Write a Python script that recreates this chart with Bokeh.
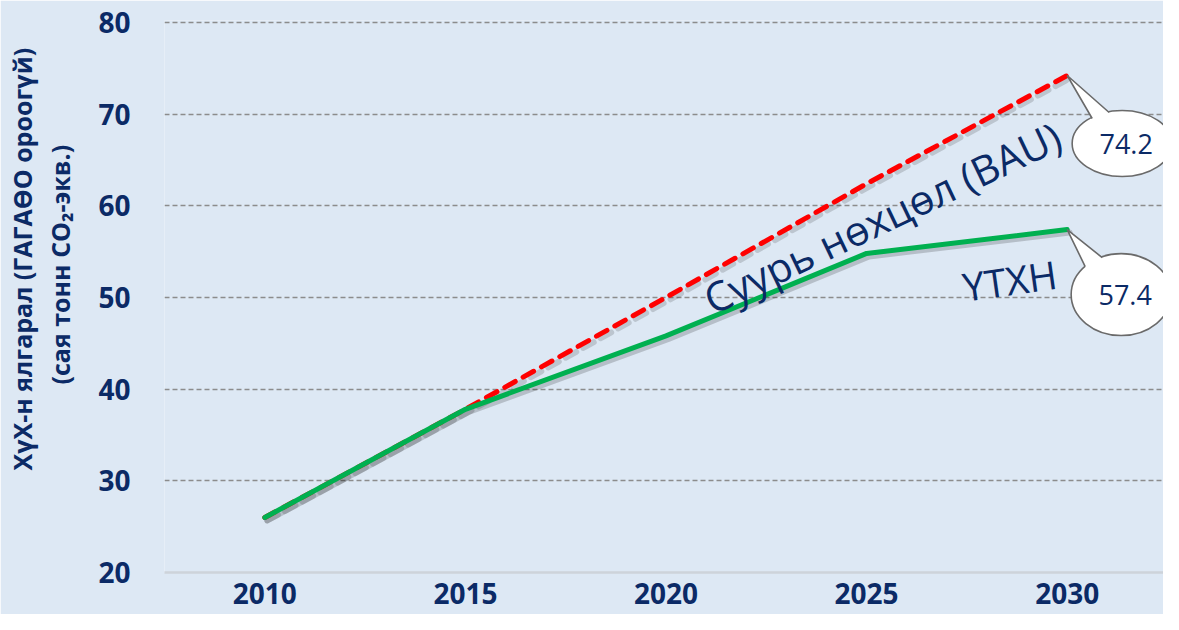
from bokeh.plotting import figure
from bokeh.models import Range1d, FixedTicker, Title
from bokeh.core.properties import value
from bokeh.embed import file_html
from bokeh.resources import INLINE

# ---------------- data ----------------
years = [2010, 2015, 2020, 2025, 2030]
bau = [26.0, 37.8, 50.0, 62.4, 74.2]
mitigation = [26.0, 37.8, 45.8, 54.8, 57.4]
y_ticks = [20, 30, 40, 50, 60, 70, 80]
bau_label = "Суурь нөхцөл (BAU)"
mitigation_label = "ҮТХН"
y_title_1 = "ХүХ-н ялгарал (ГАГАӨО ороогүй)"
y_title_2 = "(сая тонн  CO₂-экв.)"

# ---------------- style ----------------
NAVY = "#0B2A66"
BG = "#DDE8F4"
GREEN = "#00B050"
RED = "#FF0000"
FONT = "Open Sans"

W, H = 1163, 614
X0, X1 = 2007.5, 2032.4
Y0, Y1 = 20, 80.2
LEFT, TOP, BOTTOM = 163, 20, 42
FRAME_W = W - LEFT
FRAME_H = H - TOP - BOTTOM
PXX = FRAME_W / (X1 - X0)   # px per year
PXY = FRAME_H / (Y1 - Y0)   # px per unit

p = figure(width=W, height=H, output_backend="svg", toolbar_location=None,
           x_range=Range1d(X0, X1), y_range=Range1d(Y0, Y1),
           background_fill_color=BG, border_fill_color=BG,
           min_border_left=LEFT, min_border_right=0,
           min_border_top=TOP, min_border_bottom=BOTTOM)
p.outline_line_color = None

# grid
p.xgrid.grid_line_color = None
p.ygrid.ticker = FixedTicker(ticks=y_ticks[1:])
p.ygrid.grid_line_color = "#8C8C8C"
p.ygrid.grid_line_dash = "5 3"
p.ygrid.grid_line_width = 1.5

# x axis
xa = p.xaxis[0]
xa.ticker = FixedTicker(ticks=years)
xa.axis_line_color = "#CDD3DA"
xa.axis_line_width = 2.5
xa.major_tick_line_color = None
xa.minor_tick_line_color = None
xa.major_label_text_font = FONT
xa.major_label_text_font_style = "bold"
xa.major_label_text_font_size = "28px"
xa.major_label_text_color = NAVY
xa.major_label_standoff = 4

# y axis
ya = p.yaxis[0]
ya.ticker = FixedTicker(ticks=y_ticks)
ya.axis_line_color = None
ya.major_tick_line_color = None
ya.minor_tick_line_color = None
ya.major_label_text_font = FONT
ya.major_label_text_font_style = "bold"
ya.major_label_text_font_size = "28px"
ya.major_label_text_color = NAVY
ya.major_label_standoff = 28

# spacer between tick labels and the axis titles
p.add_layout(Title(text=" ", text_font_size="6px", standoff=10), "left")
# y titles (two lines) as left-side titles
for txt, stand, off in [(y_title_2, 1, 188), (y_title_1, 4, 102)]:
    t = Title(text=txt, align="left", offset=off, standoff=stand,
              text_font=FONT, text_font_style="bold", text_font_size="25px",
              text_color=NAVY)
    p.add_layout(t, "left")

# shadows
sdx, sdy = 2.5 / PXX, -3.0 / PXY
p.line([x + sdx for x in years], [v + sdy for v in bau], line_color="#000000",
       line_alpha=0.15, line_width=6, line_dash="12 8", line_cap="round")
p.line([x + sdx for x in years], [v + sdy for v in mitigation], line_color="#000000",
       line_alpha=0.18, line_width=6, line_cap="round", line_join="round")

# series
p.line(years, bau, line_color=RED, line_width=5, line_dash="12 9", line_cap="round")
p.line(years, mitigation, line_color=GREEN, line_width=5, line_cap="round", line_join="round")

# labels on lines
p.text(x=[2021.0], y=[49.6], text=[bau_label], angle=25.5, angle_units="deg",
       text_font=value(FONT), text_font_size="41px", text_color=NAVY,
       text_align="left", text_baseline="alphabetic")
p.text(x=[2027.4], y=[51.2], text=[mitigation_label], angle=8, angle_units="deg",
       text_font=value(FONT), text_font_size="39px", text_color=NAVY,
       text_align="left", text_baseline="alphabetic")

# callouts
ends = [bau[-1], mitigation[-1]]
centers_px = [(55, 68), (54, 65)]        # bubble centre offset from line end (px, y down)
sizes_px = [(100, 66), (100, 82)]
base_px = [[(-30, -25), (-13, -31)], [(-36, -28), (-19, -37)]]
inner_px = [[(-26, -20), (-11, -26)], [(-31, -23), (-15, -31)]]
for v, (cx, cy), (bw, bh), bpts, ipts in zip(ends, centers_px, sizes_px, base_px, inner_px):
    ex = years[-1]
    bx = ex + cx / PXX
    by = v - cy / PXY

    def to_d(pt):
        return bx + pt[0] / PXX, by - pt[1] / PXY

    b1, b2 = to_d(bpts[0]), to_d(bpts[1])
    i1, i2 = to_d(ipts[0]), to_d(ipts[1])
    p.ellipse(x=[bx], y=[by], width=bw, height=bh, width_units="screen",
              height_units="screen", fill_color="white", line_color="#6A6A6A",
              line_width=1.6)
    p.patch([ex, b1[0], i1[0], i2[0], b2[0]], [v, b1[1], i1[1], i2[1], b2[1]],
            fill_color="white", line_color=None)
    p.line([b1[0], ex, b2[0]], [b1[1], v, b2[1]], line_color="#6A6A6A", line_width=1.6)
    p.text(x=[bx + 4 / PXX], y=[by], text=[f"{v:.1f}"], text_font=value(FONT),
           text_font_size="27px", text_color=NAVY, text_align="center",
           text_baseline="middle")

open("out.html", "w").write(file_html(p, INLINE))
